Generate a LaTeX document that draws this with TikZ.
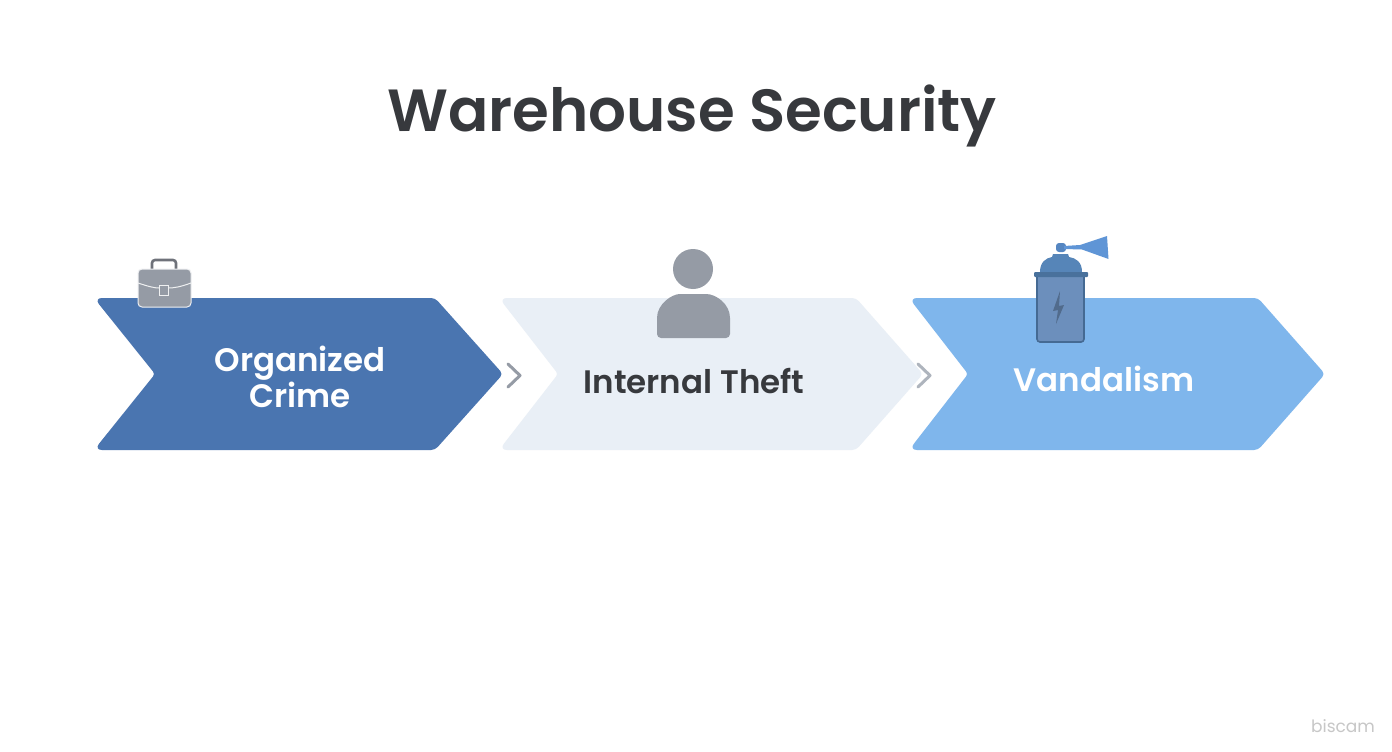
\documentclass[tikz,border=0pt]{standalone}
\usepackage{fontspec}
\setmainfont{Poppins SemiBold}
\newfontfamily\markfont{Poppins}
\definecolor{bluedark}{HTML}{4A75B0}
\definecolor{bluepale}{HTML}{E9EFF6}
\definecolor{bluelight}{HTML}{7FB6EC}
\definecolor{ink}{HTML}{37393D}
\definecolor{greyicon}{HTML}{959BA5}
\definecolor{greyline}{HTML}{6F727A}
\definecolor{sprayA}{HTML}{6C8FBC}
\definecolor{sprayB}{HTML}{5685B8}
\definecolor{sprayC}{HTML}{5F95D6}
\tikzset{
  sep/.style={line width=3pt,line cap=round,line join=round},
  lab/.style={font=\fontsize{32.5}{37}\selectfont,align=center,inner sep=0pt},
  rs/.style={rounded corners=4pt},
  rw/.style={rounded corners=8pt},
  rn/.style={rounded corners=3pt},
}
\begin{document}
\begin{tikzpicture}[x=1pt,y=-1pt]
\useasboundingbox (0,0) rectangle (1392,752);
\fill[white] (0,0) rectangle (1392,752);
% chevrons
\fill[bluepale] (700,298) [rs] -- (856,298) -- (923,374) -- (856,450) [rw] -- (499,450) [rn] -- (558,374) [rw] -- (499,298) [rs] -- cycle;
\fill[bluedark] (300,298) [rs] -- (435,298) -- (503,374) -- (435,450) [rw] -- (94,450) [rn] -- (155,374) [rw] -- (94,298) [rs] -- cycle;
\fill[bluelight] (1100,298) [rs] -- (1258,298) -- (1325,374) -- (1258,450) [rw] -- (909,450) [rn] -- (968,374) [rw] -- (909,298) [rs] -- cycle;
% separators
\draw[sep,draw=greyicon] (508,364)--(520,375.5)--(508,387);
\draw[sep,draw=greyicon!70!bluepale] (918,364)--(930,375.5)--(918,387);
% title and labels
\node[inner sep=0pt,text=ink,font=\fontsize{59.5}{68}\selectfont] (title) at (692,116) {Warehouse Security};
\node[lab,text=white] (crime) at (300,377) {Organized\\[-1pt]Crime};
\node[lab,text=ink] (theft) at (694,381) {Internal Theft};
\node[lab,text=white] (vand) at (1104,379) {Vandalism};
\node[inner sep=0pt,text=black!22,font=\fontsize{17}{20}\markfont] (mark) at (1343,726) {biscam};
% briefcase
\draw[line width=2.6pt,draw=greyline,rounded corners=3pt] (152,270)--(152,260)--(176,260)--(176,270);
\fill[greyicon,draw=white!85!greyicon,line width=1pt,rounded corners=4pt] (138,269) rectangle (191,307);
\draw[white!85!greyicon,line width=1pt] (138,283) .. controls (150,287) and (155,288) .. (159,288) (168,288) .. controls (174,288) and (180,287) .. (191,283);
\draw[white!85!greyicon,line width=1pt,fill=greyicon] (159,285) rectangle (168,295);
% person
\fill[greyicon] (693,269) circle (20);
\fill[greyicon,rounded corners=4pt] (657,338)--(657,322) .. controls (657,304) and (672,294) .. (684,294) -- (702,294) .. controls (716,294) and (730,304) .. (730,322) -- (730,338) -- cycle;
% spray can
\fill[sprayA,draw=sprayB!80!black,line width=1.6pt,rounded corners=3pt] (1037,274) rectangle (1084,342);
\fill[sprayB] (1040,272) .. controls (1040,262) and (1046,258) .. (1052,257) -- (1053,254) -- (1068,254) -- (1069,257) .. controls (1076,258) and (1082,262) .. (1082,272) -- cycle;
\fill[sprayB!85!black,rounded corners=1pt] (1034,272) rectangle (1088,277);
\fill[sprayA!70!black!85!sprayA] (1060,291)--(1053,311)--(1058,310)--(1056,324)--(1064,305)--(1059,306)--cycle;
\fill[sprayC!90!black,rounded corners=3pt] (1056,243) rectangle (1066,252);
\fill[sprayC] (1064,246)--(1080,245)--(1107,236)--(1108.5,259)--(1082,249.5)--(1064,249)--cycle;
\end{tikzpicture}
\end{document}
